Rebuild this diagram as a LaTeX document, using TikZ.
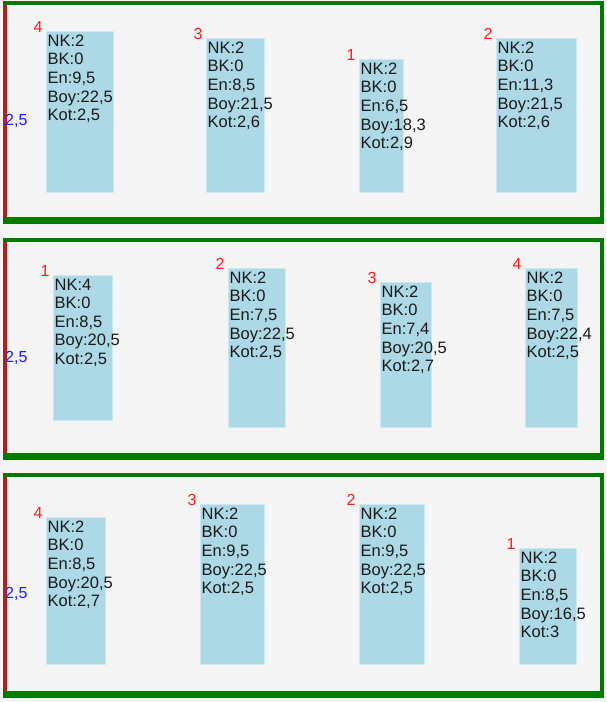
\documentclass[tikz,border=0pt]{standalone}
\usepackage{fontspec}
\setmainfont{Liberation Sans}
\definecolor{bg}{HTML}{F4F4F4}
\definecolor{barblue}{HTML}{ADD8E6}
\definecolor{framegreen}{HTML}{007A00}
\definecolor{framered}{HTML}{B02020}
\definecolor{lblred}{HTML}{FF1A1A}
\definecolor{lblblue}{HTML}{1E1EFF}
\definecolor{txt}{HTML}{1A1A1A}
\tikzset{
  barrect/.style={fill=barblue, draw=barblue!60!white, line width=0.6pt, inner sep=0pt, outer sep=0pt, anchor=north west},
  bartext/.style={anchor=north west, inner sep=0pt, align=left, text=txt, font=\fontsize{16.5}{18.6}\selectfont},
  rank/.style={text=lblred, inner sep=0pt, font=\fontsize{16}{16}\selectfont},
  scaleval/.style={text=lblblue, inner sep=0pt, anchor=west, font=\fontsize{16}{16}\selectfont},
  greenedge/.style={draw=framegreen, line width=4pt},
  greenbottom/.style={draw=framegreen, line width=7pt},
  rededge/.style={draw=framered, line width=4pt},
}
% name, rank, left, top, width, height, text
\newcommand\barbox[7]{%
  \node[barrect, minimum width=#5pt, minimum height=#6pt] (#1) at (#3,#4) {};
  \node[bartext] (#1t) at ([shift={(1.5,3.5)}]#1.north west) {#7};
  \node[rank] (#1r) at ([shift={(-8,-4)}]#1.north west) {#2};
}
% top-center, bottom-center
\newcommand\panelframe[2]{%
  \draw[greenedge] (3,#1) -- (604,#1);
  \draw[greenedge] (602,#1-2) -- (602,#2+3.5);
  \draw[greenbottom] (3,#2) -- (604,#2);
  \draw[rededge] (5,#1+2) -- (5,#2-3.5);
}
\begin{document}
\begin{tikzpicture}[x=1pt,y=-1pt]
\useasboundingbox (0,0) rectangle (606,702);
\fill[bg] (0,0) rectangle (606,702);

\panelframe{3}{220}
\panelframe{240}{456.5}
\panelframe{475}{694.5}

\node[scaleval] (s1) at (5,121) {2,5};
\node[scaleval] (s2) at (5,358) {2,5};
\node[scaleval] (s3) at (5,594) {2,5};

% panel 1
\barbox{a1}{4}{46}{31}{67}{161}{NK:2\\BK:0\\En:9,5\\Boy:22,5\\Kot:2,5}
\barbox{a2}{3}{206}{38}{58}{154}{NK:2\\BK:0\\En:8,5\\Boy:21,5\\Kot:2,6}
\barbox{a3}{1}{359}{59}{44}{133}{NK:2\\BK:0\\En:6,5\\Boy:18,3\\Kot:2,9}
\barbox{a4}{2}{496}{38}{80}{154}{NK:2\\BK:0\\En:11,3\\Boy:21,5\\Kot:2,6}

% panel 2
\barbox{b1}{1}{53}{275}{59}{145}{NK:4\\BK:0\\En:8,5\\Boy:20,5\\Kot:2,5}
\barbox{b2}{2}{228}{268}{57}{159}{NK:2\\BK:0\\En:7,5\\Boy:22,5\\Kot:2,5}
\barbox{b3}{3}{380}{282}{51}{145}{NK:2\\BK:0\\En:7,4\\Boy:20,5\\Kot:2,7}
\barbox{b4}{4}{525}{268}{52}{159}{NK:2\\BK:0\\En:7,5\\Boy:22,4\\Kot:2,5}

% panel 3
\barbox{c1}{4}{46}{517}{59}{147}{NK:2\\BK:0\\En:8,5\\Boy:20,5\\Kot:2,7}
\barbox{c2}{3}{200}{504}{64}{160}{NK:2\\BK:0\\En:9,5\\Boy:22,5\\Kot:2,5}
\barbox{c3}{2}{359}{504}{65}{160}{NK:2\\BK:0\\En:9,5\\Boy:22,5\\Kot:2,5}
\barbox{c4}{1}{519}{548}{57}{116}{NK:2\\BK:0\\En:8,5\\Boy:16,5\\Kot:3}
\end{tikzpicture}
\end{document}
